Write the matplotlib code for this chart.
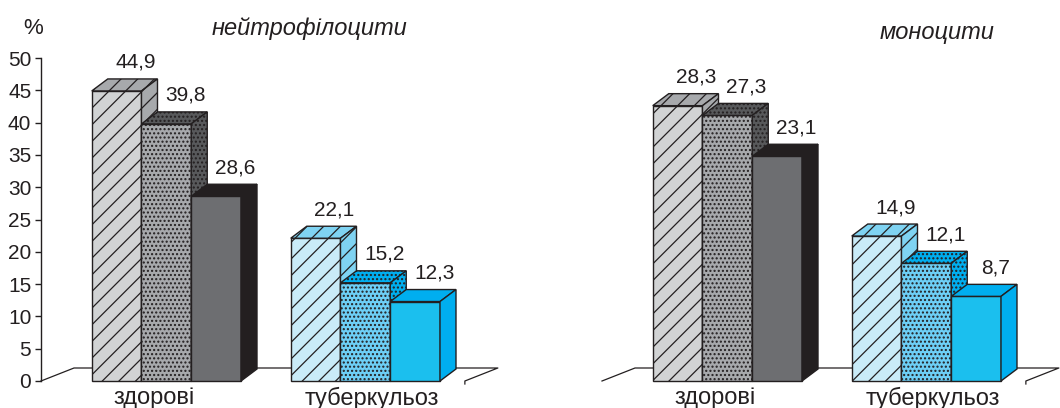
import matplotlib
matplotlib.use("Agg")
import matplotlib.pyplot as plt
from matplotlib.patches import Polygon

plt.rcParams['font.family'] = ['Liberation Sans', 'DejaVu Sans']
plt.rcParams['hatch.linewidth'] = 0.9

# data
groups = ['здорові', 'туберкульоз']
neutro = [[44.9, 39.8, 28.6], [22.1, 15.2, 12.3]]
mono = [[28.3, 27.3, 23.1], [14.9, 12.1, 8.7]]
neutro_ticks = list(range(0, 51, 5))

# styles: front face / top+side face, per group and bar
front_colors = [['#d1d3d4', '#a7a9ac', '#6d6e71'],
                ['#c9ebf8', '#6dcff6', '#1bbfee']]
dark_colors = [['#a7a9ac', '#58595b', '#231f20'],
               ['#7fd3f2', '#00aeef', '#00aeef']]
hatches = ['//', '....', None]
hatch_lw = [0.9, 1.0, 0.9]
EDGE = '#231f20'

W, H = 1060, 408
fig = plt.figure(figsize=(W / 100, H / 100), dpi=100)

XLIM = (-0.63, 1.70)
PX_PER_CAT = 199.0
BAR_W = 0.25
DEPTH_PX = (16, 12)
FLOOR_PX = (33, 13)


def add_panel(left_px, ymax):
    bottom_px, top_px = 381, 58
    ax = fig.add_axes([left_px / W, (H - bottom_px) / H,
                       (XLIM[1] - XLIM[0]) * PX_PER_CAT / W,
                       (bottom_px - top_px) / H])
    ax.set_xlim(*XLIM)
    ax.set_ylim(0, ymax)
    return ax


def draw_panel(ax, data, ymax):
    px_y = (381 - 58) / ymax
    ddx, ddy = DEPTH_PX[0] / PX_PER_CAT, DEPTH_PX[1] / px_y
    fdx, fdy = FLOOR_PX[0] / PX_PER_CAT, FLOOR_PX[1] / px_y

    # floor
    xl, xr = -0.63, 1.5
    ax.plot([xl, xl + fdx, xr + fdx, xr, xr], [0, fdy, fdy, 0, -3 / px_y],
            color=EDGE, lw=0.9, clip_on=False, zorder=1)

    z = 2
    for g, vals in enumerate(data):
        for i, h in enumerate(vals):
            x0 = g + (i - 1.5) * BAR_W
            x1 = x0 + BAR_W
            faces = [
                ([(x0, 0), (x1, 0), (x1, h), (x0, h)], front_colors[g][i]),
                ([(x0, h), (x1, h), (x1 + ddx, h + ddy), (x0 + ddx, h + ddy)], dark_colors[g][i]),
                ([(x1, 0), (x1 + ddx, ddy), (x1 + ddx, h + ddy), (x1, h)], dark_colors[g][i]),
            ]
            for verts, fc in faces:
                p = Polygon(verts, closed=True, facecolor=fc, edgecolor=EDGE,
                            hatch=hatches[i], lw=1.0, clip_on=False, zorder=z)
                if hasattr(p, 'set_hatch_linewidth'):
                    p.set_hatch_linewidth(hatch_lw[i])
                ax.add_patch(p)
                z += 1
            ax.annotate(f"{h:.1f}".replace('.', ','), xy=(x0 + BAR_W / 2 + ddx, h + ddy),
                        xytext=(3, 7), textcoords='offset pixels', ha='center', va='bottom',
                        fontsize=15, color=EDGE, zorder=100)

    ax.set_xticks([-0.06, 1.03])
    ax.set_xticklabels(groups, fontsize=17, color=EDGE)
    ax.tick_params(axis='x', length=0, pad=4)
    for s in ['top', 'right', 'bottom']:
        ax.spines[s].set_visible(False)
    ax.patch.set_visible(False)


ax1 = add_panel(41, 50)
draw_panel(ax1, neutro, 50)
ax1.set_yticks(neutro_ticks)
ax1.tick_params(axis='y', direction='out', length=4, width=1, labelsize=15,
                colors=EDGE, pad=3)
ax1.spines['left'].set_color(EDGE)
ax1.spines['left'].set_linewidth(1)

ax2 = add_panel(602, 33.2)
draw_panel(ax2, mono, 33.2)
ax2.spines['left'].set_visible(False)
ax2.set_yticks([])

fig.text(33 / W, 1 - 28 / H, '%', ha='center', va='center', fontsize=16, color=EDGE)
fig.text(309 / W, 1 - 28 / H, 'нейтрофілоцити', ha='center', va='center',
         fontsize=17, style='italic', color=EDGE)
fig.text(937 / W, 1 - 33 / H, 'моноцити', ha='center', va='center',
         fontsize=17, style='italic', color=EDGE)

fig.savefig('out.png', dpi=100)
